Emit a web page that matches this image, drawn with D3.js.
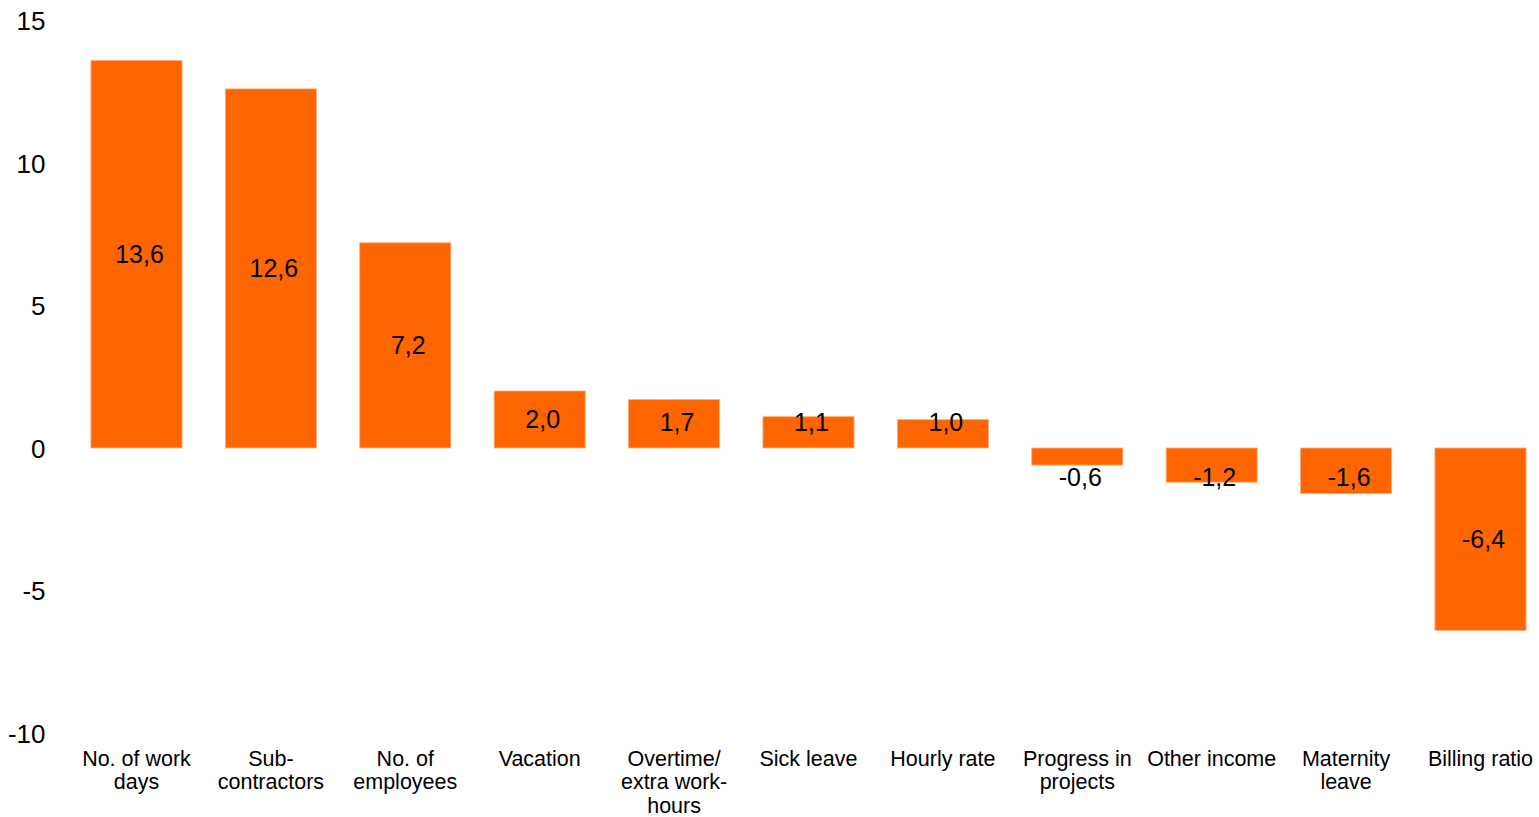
<!DOCTYPE html>
<html>
<head>
<meta charset="utf-8">
<script src="https://cdn.jsdelivr.net/npm/d3@7/dist/d3.min.js"></script>
<style>
  html, body { margin: 0; padding: 0; background: #fff; }
  svg { display: block; font-family: "Liberation Sans", Arial, sans-serif; }
</style>
</head>
<body>
<svg id="chart" width="1539" height="817"></svg>
<script>
const categories = [
  ["No. of work", "days"],
  ["Sub-", "contractors"],
  ["No. of", "employees"],
  ["Vacation"],
  ["Overtime/", "extra work-", "hours"],
  ["Sick leave"],
  ["Hourly rate"],
  ["Progress in", "projects"],
  ["Other income"],
  ["Maternity", "leave"],
  ["Billing ratio"]
];
const values = [13.6, 12.6, 7.2, 2.0, 1.7, 1.1, 1.0, -0.6, -1.2, -1.6, -6.4];
const yTicks = [15, 10, 5, 0, -5, -10];

const svg = d3.select("#chart");
const keys = categories.map((c, i) => i);

const x = d3.scaleBand()
  .domain(keys)
  .range([69.3, 1547.7])
  .paddingInner(0.322)
  .paddingOuter(0.161);

const y = d3.scaleLinear().domain([-10, 15]).range([733, 20.5]);

// Y axis labels
const yAxis = d3.axisLeft(y).tickValues(yTicks).tickSize(0).tickPadding(0)
  .tickFormat(d => String(d));
const yg = svg.append("g").attr("transform", "translate(45.5,0)").call(yAxis);
yg.select(".domain").remove();
yg.selectAll("text")
  .attr("font-size", 26)
  .attr("font-family", "Liberation Sans, Arial, sans-serif")
  .attr("fill", "#000")
  .attr("dy", "0.35em");

// Bars
svg.append("g").selectAll("rect")
  .data(values)
  .join("rect")
  .attr("x", (d, i) => x(i))
  .attr("width", x.bandwidth())
  .attr("y", d => y(Math.max(0, d)))
  .attr("height", d => Math.abs(y(d) - y(0)))
  .attr("fill", "#FF6600")
  .attr("stroke", "#FFB080")
  .attr("stroke-width", 0.8);

// Value labels
const fmt = v => d3.format(".1f")(v).replace(".", ",").replace("−", "-");
svg.append("g").selectAll("text")
  .data(values)
  .join("text")
  .attr("x", (d, i) => x(i) + x.bandwidth() / 2 + 3)
  .attr("y", d => {
    const mid = (y(d) + y(0)) / 2;
    return d >= 0 ? Math.min(mid, y(0) - 26) : Math.max(mid, y(0) + 29);
  })
  .attr("dy", "0.35em")
  .attr("text-anchor", "middle")
  .attr("font-size", 25)
  .attr("fill", "#000")
  .text(d => fmt(d));

// Category labels
const xg = svg.append("g");
categories.forEach((lines, i) => {
  const t = xg.append("text")
    .attr("x", x(i) + x.bandwidth() / 2)
    .attr("y", 758)
    .attr("text-anchor", "middle")
    .attr("font-size", 21.5)
    .attr("fill", "#000");
  lines.forEach((ln, j) => {
    t.append("tspan")
      .attr("x", x(i) + x.bandwidth() / 2)
      .attr("y", 758 + j * 23.6)
      .attr("dy", "0.35em")
      .text(ln);
  });
});
</script>
</body>
</html>
